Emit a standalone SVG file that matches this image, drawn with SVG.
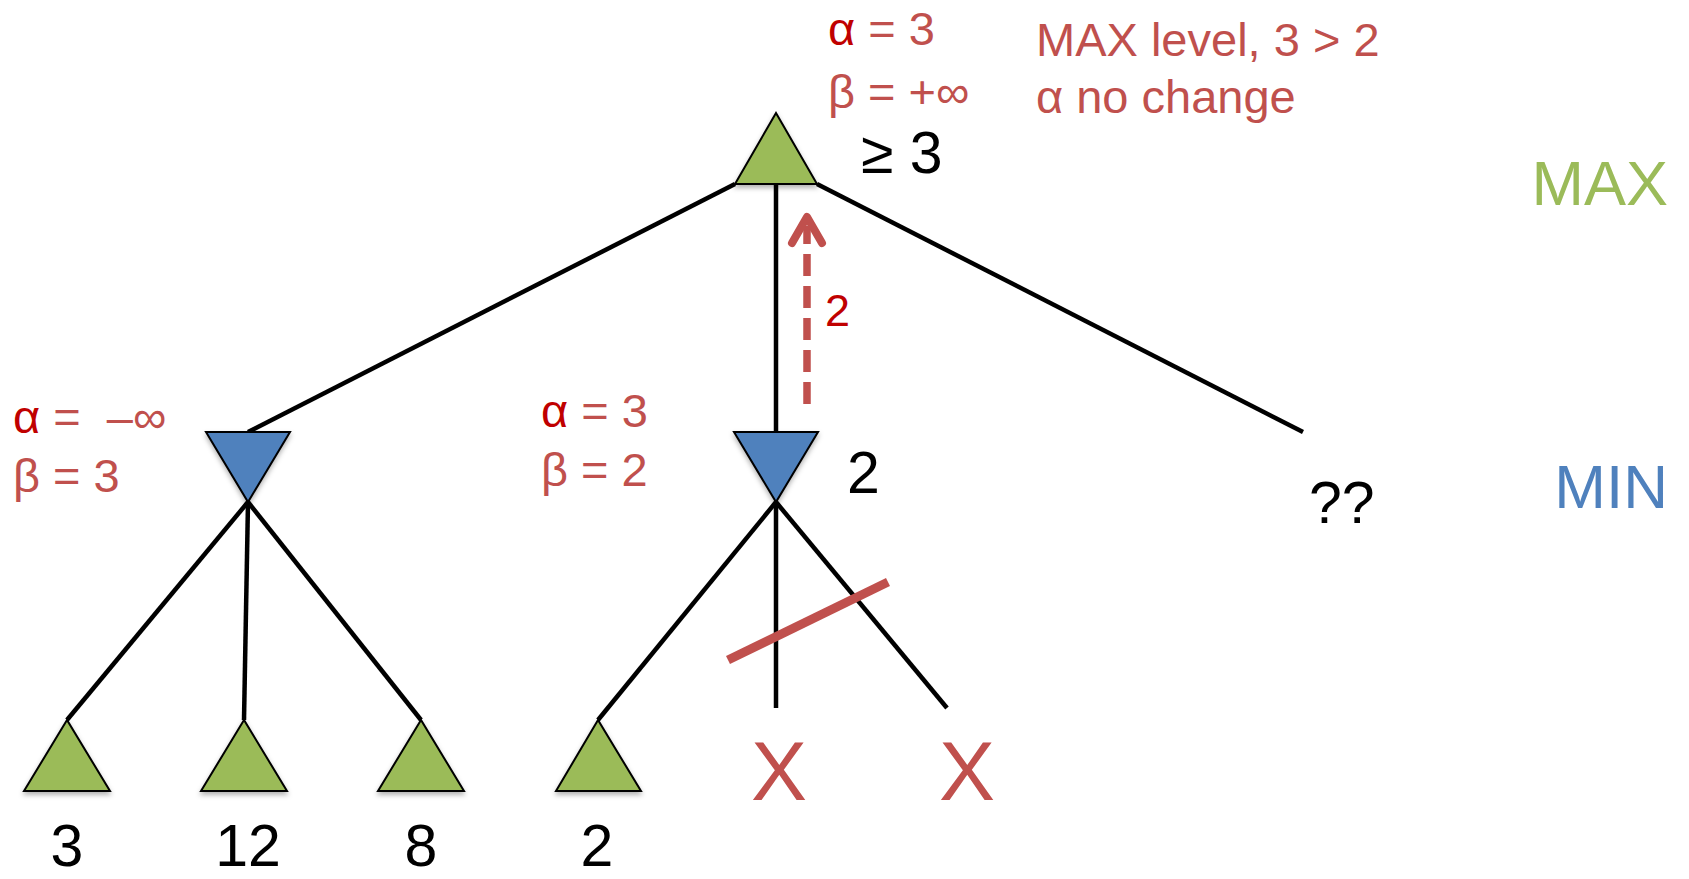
<svg xmlns="http://www.w3.org/2000/svg" width="1689" height="879" viewBox="0 0 1689 879">
<style>
text{font-family:"Liberation Sans",Arial,sans-serif}
.red{fill:#C0504D}
.dred{fill:#C00000}
.lbl{font-size:47px}
.val{font-size:59px;fill:#000}
.edge{stroke:#000;stroke-width:4.5;fill:none}
.max{fill:#9BBB59;stroke:#000;stroke-width:2;stroke-linejoin:miter}
.min{fill:#4F81BD;stroke:#000;stroke-width:2}
</style>
<defs>
<filter id="sh" x="-20%" y="-20%" width="140%" height="150%">
<feDropShadow dx="0" dy="3" stdDeviation="2.5" flood-color="#000" flood-opacity="0.3"/>
</filter>
</defs>
<rect width="1689" height="879" fill="#fff"/>
<g id="connectors">
<line class="edge" x1="735" y1="184" x2="248" y2="432"/>
<line class="edge" x1="776" y1="184" x2="776" y2="432"/>
<line class="edge" x1="817" y1="184" x2="1303" y2="432"/>
<line class="edge" x1="248" y1="502" x2="67" y2="720"/>
<line class="edge" x1="248" y1="502" x2="244" y2="720"/>
<line class="edge" x1="248" y1="502" x2="421" y2="720"/>
<line class="edge" x1="776" y1="502" x2="598" y2="720"/>
<line class="edge" x1="776" y1="502" x2="776" y2="708"/>
<line class="edge" x1="776" y1="502" x2="947" y2="708"/>
<line x1="807" y1="404" x2="807" y2="226" stroke="#C0504D" stroke-width="7.5" stroke-dasharray="22 10"/>
<polyline points="792,243 807,217 822,243" fill="none" stroke="#C0504D" stroke-width="8" stroke-linecap="round" stroke-linejoin="round"/>
<line x1="728" y1="660" x2="888" y2="582" stroke="#C0504D" stroke-width="9"/>
</g>
<g id="root">
<polygon class="max" filter="url(#sh)" points="776,113 735,184 817,184"/>
<text class="lbl" x="828" y="45" xml:space="preserve"><tspan class="dred">α</tspan><tspan class="red"> = 3</tspan></text>
<text class="lbl red" x="828" y="108">β = +∞</text>
<text class="val" x="861" y="173">≥ 3</text>
<text class="lbl red" x="1036" y="56">MAX level, 3 &gt; 2</text>
<text class="lbl red" x="1036" y="113">α no change</text>
</g>
<g id="min-left">
<polygon class="min" filter="url(#sh)" points="206,432 290,432 248,502"/>
<text class="lbl" x="13" y="433" xml:space="preserve"><tspan class="dred">α</tspan><tspan class="red"> =  –∞</tspan></text>
<text class="lbl red" x="13" y="492">β = 3</text>
</g>
<g id="min-mid">
<polygon class="min" filter="url(#sh)" points="734,432 818,432 776,502"/>
<text class="lbl" x="541" y="427" xml:space="preserve"><tspan class="dred">α</tspan><tspan class="red"> = 3</tspan></text>
<text class="lbl red" x="541" y="486">β = 2</text>
<text class="val" x="847" y="493">2</text>
<text x="825" y="326" font-size="45" class="dred">2</text>
</g>
<g id="unknown">
<text class="val" x="1309" y="523">??</text>
</g>
<g id="leaf1">
<polygon class="max" filter="url(#sh)" points="67,720 24,791 110,791"/>
<text class="val" x="67" y="866" text-anchor="middle">3</text>
</g>
<g id="leaf2">
<polygon class="max" filter="url(#sh)" points="244,720 201,791 287,791"/>
<text class="val" x="248" y="866" text-anchor="middle">12</text>
</g>
<g id="leaf3">
<polygon class="max" filter="url(#sh)" points="421,720 378,791 464,791"/>
<text class="val" x="421" y="866" text-anchor="middle">8</text>
</g>
<g id="leaf4">
<polygon class="max" filter="url(#sh)" points="598,720 556,791 641,791"/>
<text class="val" x="597" y="866" text-anchor="middle">2</text>
</g>
<g id="pruned1">
<text x="779" y="800" font-size="84" class="red" text-anchor="middle">X</text>
</g>
<g id="pruned2">
<text x="967" y="800" font-size="84" class="red" text-anchor="middle">X</text>
</g>
<g id="levels">
<text x="1668" y="205" font-size="63" fill="#9BBB59" text-anchor="end">MAX</text>
<text x="1668" y="508" font-size="62" fill="#4F81BD" text-anchor="end">MIN</text>
</g>
</svg>
